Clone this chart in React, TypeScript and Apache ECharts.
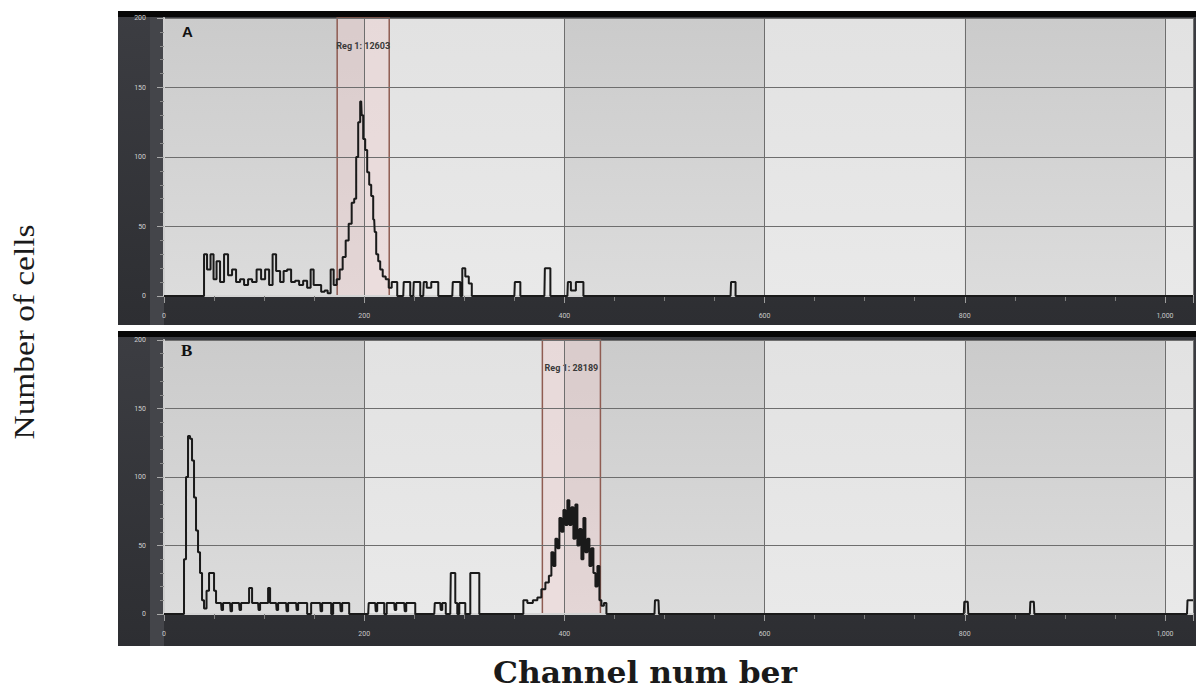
import React, { useEffect, useRef } from "react";
import * as echarts from "echarts";

// ---- data ----
const channelMax = 1028;
const countMax = 200;
const bandEdges = [0, 200, 400, 600, 800, 1000, 1028];

// Panel A histogram: [channel, count]
const histA: [number, number][] = [
  [0, 0], [39, 0], [41, 30], [45, 19], [48, 30], [51, 12], [54, 25], [58, 10], [62, 30], [66, 15],
  [70, 19], [74, 10], [78, 12], [82, 8], [86, 12], [90, 10], [95, 19], [99, 12], [103, 19], [107, 8],
  [110, 30], [114, 18], [118, 10], [121, 18], [125, 19], [129, 10], [133, 11], [137, 8], [141, 11], [145, 6],
  [148, 19], [151, 8], [155, 8], [159, 3], [162, 4], [165, 2], [168, 19], [171, 8], [174, 12], [177, 19],
  [180, 28], [183, 40], [186, 52], [189, 67], [191, 70], [193, 100], [195, 125], [197, 140], [198, 130], [200, 113],
  [202, 105], [204, 89], [206, 80], [208, 72], [210, 55], [211, 46], [213, 30], [215, 25], [217, 19], [220, 14],
  [223, 12], [226, 6], [229, 10], [232, 10], [234, 0], [239, 0], [240, 10], [245, 10], [247, 0], [249, 0],
  [250, 10], [255, 10], [257, 0], [259, 0], [260, 10], [265, 6], [269, 10], [273, 10], [275, 0], [288, 0],
  [289, 10], [295, 10], [297, 0], [299, 20], [303, 14], [306, 9], [309, 0], [350, 0], [351, 10], [355, 10],
  [357, 0], [380, 0], [381, 20], [385, 20], [387, 0], [403, 0], [404, 10], [409, 4], [414, 10], [418, 10],
  [420, 0], [566, 0], [567, 10], [570, 10], [572, 0], [1028, 0],
];

// Panel B histogram: [channel, count]
const histB: [number, number][] = [
  [0, 0], [19, 0], [21, 40], [23, 100], [25, 130], [27, 128], [29, 112], [31, 85], [33, 61], [35, 45],
  [37, 30], [39, 10], [41, 4], [44, 17], [46, 30], [49, 30], [51, 17], [53, 8], [57, 8], [58, 3],
  [60, 8], [66, 8], [67, 2], [69, 8], [75, 8], [76, 3], [78, 8], [84, 8], [86, 19], [90, 8],
  [94, 8], [95, 3], [97, 8], [103, 8], [105, 19], [107, 8], [112, 8], [113, 3], [115, 8], [122, 8],
  [123, 2], [125, 8], [132, 8], [133, 3], [135, 8], [142, 8], [144, 0], [150, 8], [156, 8], [157, 2],
  [159, 8], [166, 8], [168, 0], [170, 8], [176, 8], [177, 2], [179, 8], [184, 8], [186, 0], [204, 0],
  [205, 8], [211, 8], [212, 2], [214, 8], [219, 8], [221, 0], [224, 8], [230, 8], [231, 3], [233, 8],
  [240, 8], [241, 2], [243, 8], [250, 8], [252, 0], [270, 0], [271, 8], [276, 8], [277, 3], [279, 8],
  [284, 0], [286, 0], [287, 30], [290, 30], [292, 8], [294, 0], [296, 8], [300, 8], [302, 0], [310, 30],
  [314, 30], [316, 0], [358, 0], [360, 10], [366, 8], [371, 10], [375, 12], [379, 18], [383, 23], [386, 28],
  [388, 45], [390, 35], [392, 55], [394, 48], [396, 70], [398, 60], [400, 76], [402, 65], [404, 83], [406, 65],
  [408, 78], [410, 55], [412, 80], [414, 50], [416, 62], [418, 40], [420, 70], [422, 45], [424, 55], [426, 35],
  [428, 48], [430, 30], [432, 20], [434, 35], [436, 10], [438, 6], [441, 8], [443, 0], [490, 0], [491, 10],
  [494, 10], [495, 0], [799, 0], [800, 9], [803, 9], [804, 0], [865, 0], [866, 9], [869, 9], [870, 0],
  [1022, 0], [1023, 10], [1028, 10],
];

const regionA = [173, 225];
const regionB = [378, 436];
const regionLabelA = "Reg 1: 12603";
const regionLabelB = "Reg 1: 28189";
const panelLabels = ["A", "B"];
const xTitle = "Channel num ber";
const yTitle = "Number of cells";

// ---- layout ----
const grids = [
  { left: 164, top: 18, width: 1032, height: 278 },
  { left: 164, top: 340, width: 1032, height: 274 },
];

function vgrad(top: string, bottom: string) {
  return new echarts.graphic.LinearGradient(0, 0, 0, 1, [
    { offset: 0, color: top },
    { offset: 1, color: bottom },
  ]);
}

function makeX(gi: number) {
  return {
    type: "value",
    gridIndex: gi,
    min: 0,
    max: channelMax,
    interval: 200,
    z: 2,
    axisLine: { show: true, lineStyle: { color: "#d4d4d4", width: 2 } },
    axisTick: { show: true, length: 7, lineStyle: { color: "#9c9c9c" } },
    minorTick: { show: true, splitNumber: 4, length: 5, lineStyle: { color: "#7d7d7d" } },
    minorSplitLine: { show: false },
    axisLabel: {
      fontSize: 7,
      color: "#c8c8c8",
      margin: 16,
      fontFamily: "Roboto",
      formatter: (v: number) => (v % 200 === 0 && v <= 1000 ? v.toLocaleString("en-US") : ""),
    },
    splitLine: { show: true, lineStyle: { color: "#6e6e6e", width: 1 } },
  };
}

function makeY(gi: number) {
  return {
    type: "value",
    gridIndex: gi,
    min: 0,
    max: countMax,
    interval: 50,
    z: 2,
    axisLine: { show: true, lineStyle: { color: "#cfcfcf", width: 2 } },
    axisTick: { show: true, length: 7, lineStyle: { color: "#a8a8a8" } },
    minorTick: { show: true, splitNumber: 5, length: 4, lineStyle: { color: "#8a8a8a" } },
    axisLabel: { fontSize: 7, color: "#cfcfcf", margin: 18, fontFamily: "Roboto" },
    splitLine: { show: true, lineStyle: { color: "#6e6e6e", width: 1 } },
  };
}

function bandSeries(gi: number) {
  const data: any[] = [];
  for (let i = 0; i < bandEdges.length - 1; i++) {
    const dark = i % 2 === 0;
    data.push([
      {
        xAxis: bandEdges[i],
        itemStyle: { color: dark ? vgrad("#cbcbcb", "#dcdcdc") : vgrad("#e2e2e2", "#e9e9e9") },
      },
      { xAxis: bandEdges[i + 1] },
    ]);
  }
  return {
    type: "line",
    xAxisIndex: gi,
    yAxisIndex: gi,
    data: [],
    z: 1,
    silent: true,
    markArea: { silent: true, data },
  };
}

function regionSeries(gi: number, r: number[], label: string) {
  return {
    type: "line",
    xAxisIndex: gi,
    yAxisIndex: gi,
    data: [],
    z: 3,
    silent: true,
    markArea: {
      silent: true,
      itemStyle: { color: "rgba(238,206,204,0.42)", borderColor: "#8f5c52", borderWidth: 1.5 },
      label: {
        show: true,
        position: "insideTop",
        distance: 24,
        formatter: label,
        fontSize: 9,
        fontWeight: "bold",
        color: "#3a3a3a",
        fontFamily: "Roboto",
      },
      data: [[{ xAxis: r[0] }, { xAxis: r[1] }]],
    },
  };
}

function histSeries(gi: number, data: [number, number][]) {
  return {
    type: "line",
    xAxisIndex: gi,
    yAxisIndex: gi,
    data,
    step: "middle",
    symbol: "none",
    z: 4,
    silent: true,
    lineStyle: { color: "#1a1a1a", width: 2 },
  };
}

function frame(y: number, h: number) {
  return [
    {
      type: "rect",
      z: -10,
      shape: { x: 118, y, width: 1078, height: h },
      style: { fill: vgrad("#3c3d42", "#2d2e32") },
    },
    {
      type: "rect",
      z: -9,
      shape: { x: 118, y: y - 1, width: 1078, height: 6 },
      style: { fill: "#070707" },
    },
    {
      type: "rect",
      z: -9,
      shape: { x: 150, y: y + 5, width: 14, height: h - 5 },
      style: { fill: "#44454a" },
    },
  ];
}

export default function App() {
  const ref = useRef<HTMLDivElement>(null);
  useEffect(() => {
    if (!ref.current) return;
    const chart = echarts.init(ref.current, undefined, { renderer: "svg" });
    chart.setOption({
      animation: false,
      backgroundColor: "#ffffff",
      grid: grids.map((g) => ({ ...g, show: true, backgroundColor: "#e4e4e4", borderWidth: 0 })),
      xAxis: [makeX(0), makeX(1)],
      yAxis: [makeY(0), makeY(1)],
      series: [
        bandSeries(0),
        bandSeries(1),
        regionSeries(0, regionA, regionLabelA),
        regionSeries(1, regionB, regionLabelB),
        histSeries(0, histA),
        histSeries(1, histB),
      ],
      graphic: [
        ...frame(12, 313),
        ...frame(332, 314),
        {
          type: "text",
          z: 10,
          x: 182,
          y: 24,
          style: { text: panelLabels[0], font: "bold 15px 'Liberation Sans'", fill: "#111" },
        },
        {
          type: "text",
          z: 10,
          x: 181,
          y: 342,
          style: { text: panelLabels[1], font: "bold 17px 'Liberation Serif'", fill: "#111" },
        },
        {
          type: "text",
          z: 10,
          x: 24,
          y: 332,
          rotation: Math.PI / 2,
          scaleX: 1.15,
          style: {
            text: yTitle,
            font: "29px 'Liberation Serif'",
            fill: "#1a1a1a",
            align: "center",
            verticalAlign: "middle",
          },
        },
        {
          type: "text",
          z: 10,
          x: 645,
          y: 673,
          scaleX: 1.08,
          style: {
            text: xTitle,
            font: "bold 29px 'DejaVu Serif'",
            fill: "#1a1a1a",
            align: "center",
            verticalAlign: "middle",
          },
        },
      ],
    });
    return () => chart.dispose();
  }, []);
  return (
    <div
      ref={ref}
      style={{ position: "absolute", left: 0, top: 0, width: 1196, height: 689 }}
    />
  );
}
